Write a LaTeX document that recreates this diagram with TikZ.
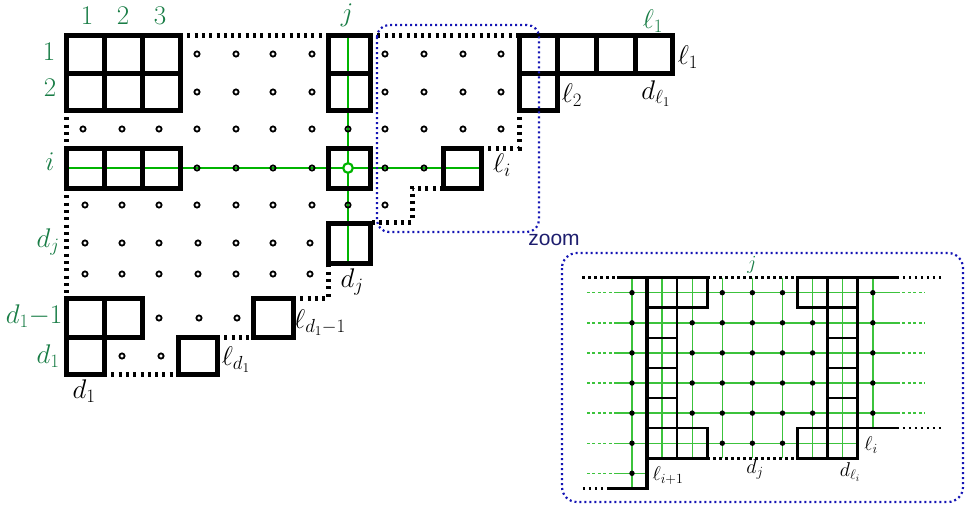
\RequirePackage{fix-cm}
\documentclass[tikz,border=0pt]{standalone}
\usepackage{fontspec}
\newfontfamily\zoomfont{Liberation Sans}
\definecolor{lgreen}{RGB}{25,125,70}
\definecolor{gline}{RGB}{0,180,0}
\definecolor{zgreen}{RGB}{60,195,60}
\definecolor{bluebox}{RGB}{20,20,180}
\definecolor{navytext}{RGB}{30,30,110}
\tikzset{
  box/.style={line width=5pt},
  dotline/.style={line width=5pt, dash pattern=on 3pt off 4.3pt},
  gl/.style={gline, line width=2.3pt},
  ring/.style={draw, line width=1.8pt},
  glab/.style={text=lgreen, font=\fontsize{27}{30}\selectfont, inner sep=0pt},
  blab/.style={text=black, font=\fontsize{27}{30}\selectfont, inner sep=0pt},
  zlab/.style={font=\fontsize{20}{24}\selectfont, inner sep=0pt},
  bluedot/.style={bluebox, line width=2.2pt, dash pattern=on 2pt off 3pt},
  zbox/.style={line width=2.6pt},
  zthick/.style={line width=3.5pt},
  zdot/.style={line width=2.6pt, dash pattern=on 2.5pt off 3.5pt},
  zgl/.style={zgreen, line width=1.4pt},
  zgdot/.style={zgreen, line width=1.4pt, dash pattern=on 3pt off 2.5pt},
}
\begin{document}
\begin{tikzpicture}[x=1pt,y=-1pt]
\useasboundingbox (0,0) rectangle (969,504);

% ---------- main diagram ----------
% green lines
\draw[gl] (66,168) -- (481,168);
\draw[gl] (348,35) -- (348,263);

% boxes
\draw[box] (66,35) rectangle (180,110);
\draw[box] (104,35) -- (104,110) (142,35) -- (142,110) (66,73) -- (180,73);
\draw[box] (328,35) rectangle (370,110);
\draw[box] (328,73) -- (370,73);
\draw[box] (66,148) rectangle (180,188);
\draw[box] (104,148) -- (104,188) (142,148) -- (142,188);
\draw[box] (328,148) rectangle (370,188);
\draw[box] (443,148) rectangle (481,188);
\draw[box] (328,223) rectangle (370,263);
\draw[box] (66,298) rectangle (142,337);
\draw[box] (104,298) -- (104,337);
\draw[box] (66,337) rectangle (104,374);
\draw[box] (178,337) rectangle (217,374);
\draw[box] (253,298) rectangle (293,337);
\draw[box] (519,35) rectangle (672,73);
\draw[box] (557,35) -- (557,73) (596,35) -- (596,73) (635,35) -- (635,73);
\draw[box] (519,73) rectangle (557,110);

% dotted boundaries
\draw[dotline] (180,35) -- (328,35);
\draw[dotline] (370,35) -- (519,35);
\draw[dotline] (66,110) -- (66,148);
\draw[dotline] (66,188) -- (66,298);
\draw[dotline] (104,374) -- (178,374);
\draw[dotline] (217,337) -- (253,337);
\draw[dotline] (293,298) -- (328,298) -- (328,263);
\draw[dotline] (519,110) -- (519,148) -- (481,148);
\draw[dotline] (443,188) -- (412,188) -- (412,222) -- (370,222);

% rings
\foreach \x in {197,236,273,312,385,424,463,501} {
  \draw[ring] (\x,54) circle[radius=2.6pt];
  \draw[ring] (\x,92) circle[radius=2.6pt];
}
\foreach \x in {83,122,159,197,236,273,312,348,385,424,463,501}
  \draw[ring] (\x,129) circle[radius=2.6pt];
\foreach \x in {197,236,273,312,385,424}
  \draw[ring] (\x,168) circle[radius=2.6pt];
\foreach \x in {85,122,159,197,236,273,312,348,385}
  \draw[ring] (\x,205) circle[radius=2.6pt];
\foreach \x in {85,122,159,198,236,273,310} {
  \draw[ring] (\x,243) circle[radius=2.6pt];
  \draw[ring] (\x,274) circle[radius=2.6pt];
}
\foreach \x in {159,199,237}
  \draw[ring] (\x,318) circle[radius=2.6pt];
\foreach \x in {122,161}
  \draw[ring] (\x,356) circle[radius=2.6pt];
\draw[gline, line width=2.2pt, fill=white] (348,168) circle[radius=4.8pt];

% labels
\node[glab] (c1) at (87,16) {$1$};
\node[glab] (c2) at (123,16) {$2$};
\node[glab] (c3) at (160,16) {$3$};
\node[glab] (cj) at (347,15) {$j$};
\node[glab] (r1) at (49,52) {$1$};
\node[glab] (r2) at (50,88) {$2$};
\node[glab] (ri) at (50,162) {$i$};
\node[glab] (rdj) at (48,242) {$d_j$};
\node[glab] (rd1m) at (34,316) {$d_1{-}1$};
\node[glab] (rd1) at (48,356) {$d_1$};
\node[glab] (gl1) at (653,21) {$\ell_1$};
\node[blab] (bd1) at (84,391) {$d_1$};
\node[blab] (bld1) at (236,360) {$\ell_{d_1}$};
\node[blab] (bld1m) at (320,323) {$\ell_{d_1-1}$};
\node[blab] (bdj) at (352,282) {$d_j$};
\node[blab] (bli) at (502,165) {$\ell_i$};
\node[blab] (bl2) at (572,95) {$\ell_2$};
\node[blab] (bdl1) at (656,94) {$d_{\ell_1}$};
\node[blab] (bl1) at (688,57) {$\ell_1$};

% zoom frames
\draw[bluedot, rounded corners=12pt] (377,25) rectangle (539,232);
\node[text=navytext, font=\zoomfont\fontsize{21}{24}\selectfont, inner sep=0pt] (zoomlab) at (554,240) {zoom};
\draw[bluedot, rounded corners=15pt] (562,253) rectangle (963,502);

% ---------- zoomed view ----------
\begin{scope}[shift={(632,292.7)}, x=30.1pt, y=-30.1pt]
  % green grid
  \foreach \b in {0,...,4} {
    \draw[zgdot] (-1.5,\b) -- (-0.5,\b);
    \draw[zgl] (-0.5,\b) -- (8.8,\b);
    \draw[zgdot] (8.8,\b) -- (9.75,\b);
  }
  \draw[zgdot] (-1.5,5) -- (-0.5,5);
  \draw[zgl] (-0.5,5) -- (7.5,5);
  \draw[zgdot] (-1.5,6) -- (-0.5,6);
  \draw[zgl] (-0.5,6) -- (0.5,6);
  \draw[zgl] (0,-0.5) -- (0,6.5);
  \foreach \a in {1,...,7}
    \draw[zgl] (\a,-0.5) -- (\a,5.5);
  \draw[zgl] (8,-0.5) -- (8,4.5);
  % black dots
  \foreach \a in {0,3,4,5,8}
    \fill (\a,0) circle[radius=2.7pt];
  \foreach \b in {1,...,4}
    \foreach \a in {0,2,3,4,5,6,8}
      \fill (\a,\b) circle[radius=2.7pt];
  \foreach \a in {0,3,4,5}
    \fill (\a,5) circle[radius=2.7pt];
  \fill (0,6) circle[radius=2.7pt];
  % left tower
  \draw[zbox] (0.5,-0.5) rectangle (1.5,5.5);
  \foreach \b in {0.5,1.5,2.5,3.5,4.5}
    \draw[zbox] (0.5,\b) -- (1.5,\b);
  \draw[zbox] (1.5,-0.5) rectangle (2.5,0.5);
  \draw[zbox] (1.5,4.5) rectangle (2.5,5.5);
  \draw[zthick] (0.5,-0.5) -- (0.5,6.5) -- (-0.83,6.5);
  % right tower
  \draw[zbox] (6.5,-0.5) rectangle (7.5,5.5);
  \foreach \b in {0.5,1.5,2.5,3.5,4.5}
    \draw[zbox] (6.5,\b) -- (7.5,\b);
  \draw[zbox] (5.5,-0.5) rectangle (6.5,0.5);
  \draw[zbox] (5.5,4.5) rectangle (6.5,5.5);
  \draw[zbox] (7.5,4.5) -- (8.8,4.5);
  % top line and dotted parts
  \draw[zbox] (-0.5,-0.5) -- (2.5,-0.5);
  \draw[zbox] (5.5,-0.5) -- (8.8,-0.5);
  \draw[zdot] (-1.66,-0.5) -- (-0.5,-0.5);
  \draw[zdot] (2.5,-0.5) -- (5.5,-0.5);
  \draw[zdot] (8.8,-0.5) -- (10.25,-0.5);
  \draw[zdot] (8.8,4.5) -- (10.25,4.5);
  \draw[zdot] (2.5,5.5) -- (5.5,5.5);
  \draw[zdot] (-1.63,6.5) -- (-0.83,6.5);
\end{scope}
% zoom labels
\node[zlab, text=lgreen] (zj) at (752,265) {$j$};
\node[zlab] (zli1) at (668,476) {$\ell_{i+1}$};
\node[zlab] (zdj) at (755,469) {$d_j$};
\node[zlab] (zdli) at (850,472) {$d_{\ell_i}$};
\node[zlab] (zli) at (871,445) {$\ell_i$};
\end{tikzpicture}
\end{document}
